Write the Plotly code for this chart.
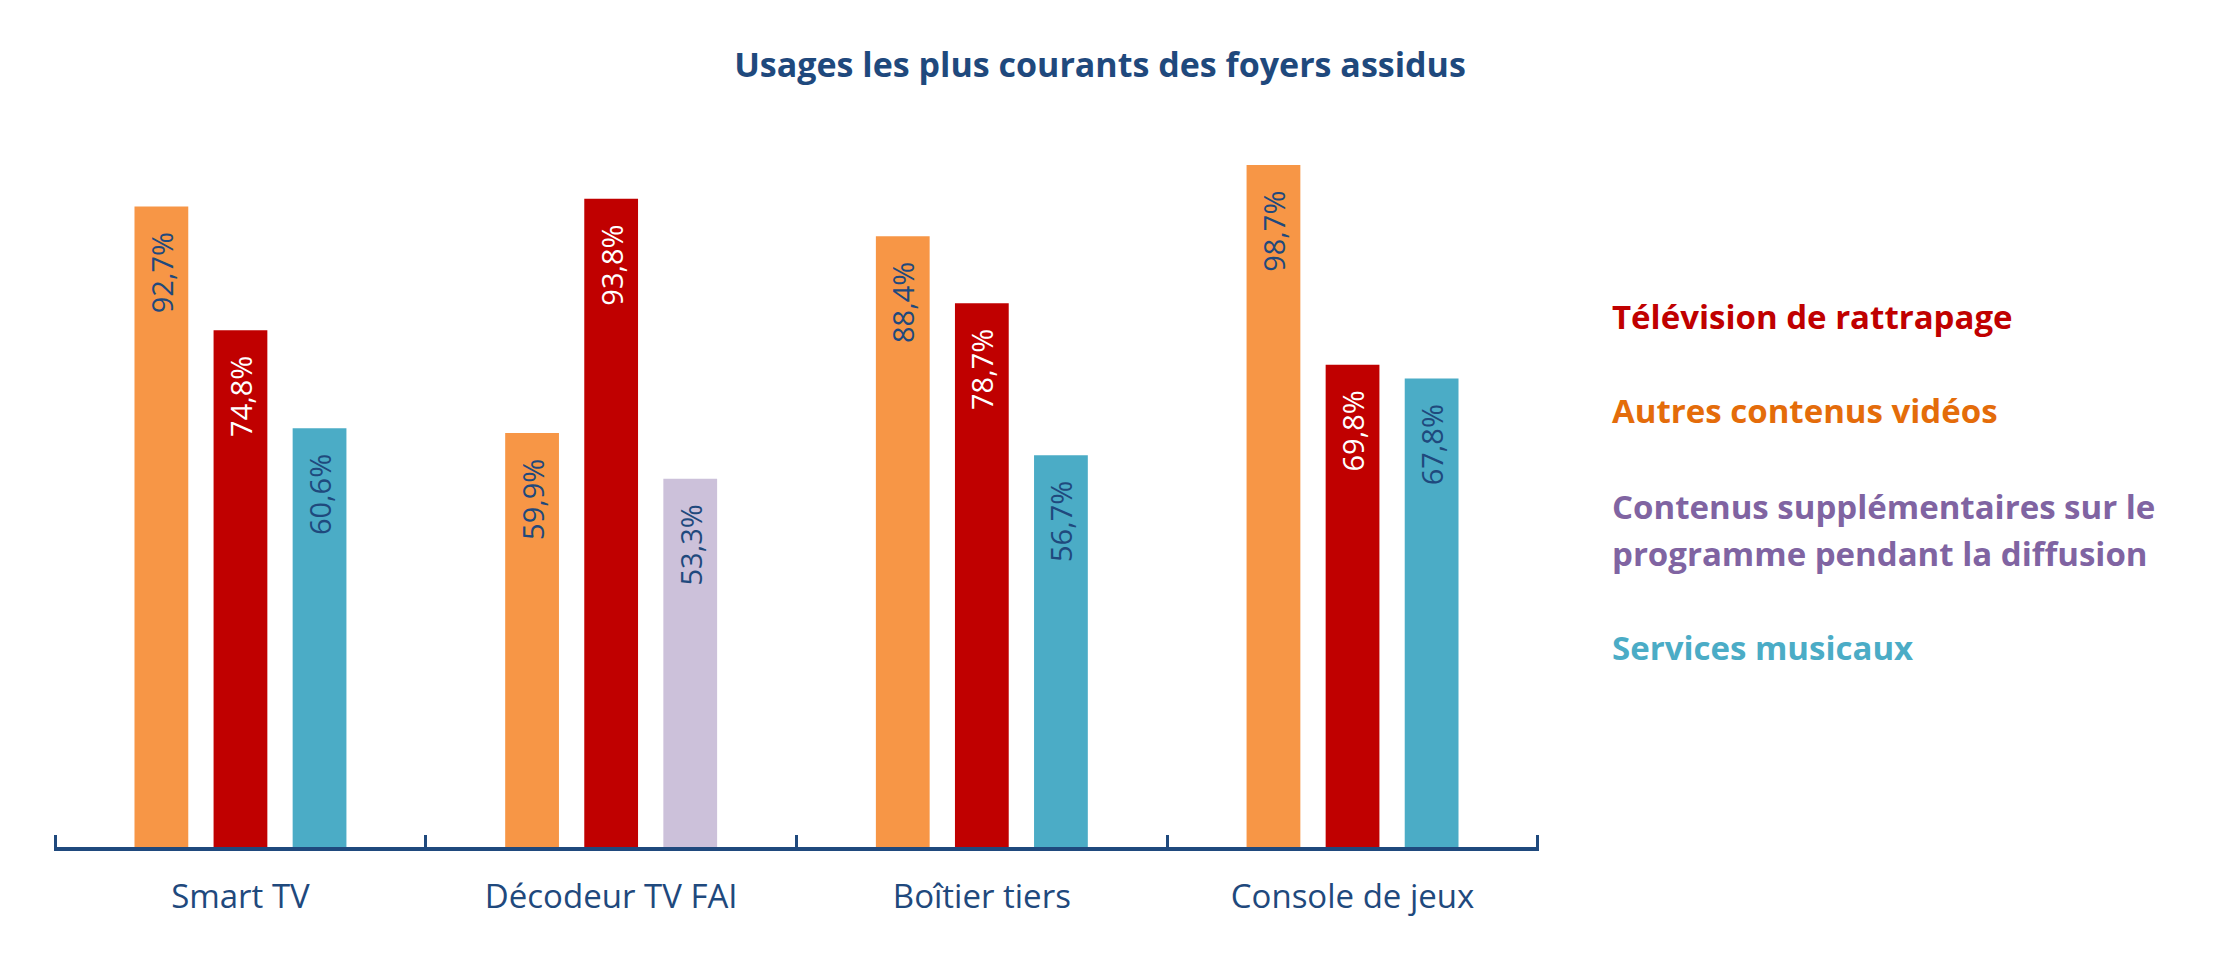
import plotly.graph_objects as go

categories = ["Smart TV", "Décodeur TV FAI", "Boîtier tiers", "Console de jeux"]
rattrapage = [74.8, 93.8, 78.7, 69.8]
autres_videos = [92.7, 59.9, 88.4, 98.7]
contenus_supp = [None, 53.3, None, None]
musicaux = [60.6, None, 56.7, 67.8]

series = [
    ("Autres contenus vidéos", autres_videos, "#F79646", "#1F497D", "a"),
    ("Télévision de rattrapage", rattrapage, "#C00000", "#FFFFFF", "b"),
    ("Contenus supplémentaires sur le programme pendant la diffusion", contenus_supp, "#CCC1DA", "#1F497D", "c"),
    ("Services musicaux", musicaux, "#4BACC6", "#1F497D", "c"),
]

FONT = "Open Sans"
OFF = 8  # page body margin
W, H = 2240 - 2 * OFF, 958 - 2 * OFF
PL, PR, PT, PB = 54, 1539, 156, 847  # plot area in page pixels

fig = go.Figure()
for name, vals, color, tcolor, grp in series:
    fig.add_trace(go.Bar(
        x=categories, y=vals, name=name, offsetgroup=grp,
        marker=dict(color=color, line=dict(width=0)),
        texttemplate="%{y:.1f}%\u00a0\u00a0\u00a0", textposition="inside",
        insidetextanchor="end", textangle=-90,
        textfont=dict(family=FONT, size=29, color=tcolor),
        showlegend=False,
    ))

legend_items = [
    ("Télévision de rattrapage", "#C00000", 316),
    ("Autres contenus vidéos", "#E46C0A", 410),
    ("Contenus supplémentaires sur le", "#8064A2", 506),
    ("programme pendant la diffusion", "#8064A2", 553),
    ("Services musicaux", "#4BACC6", 647),
]
annotations = []
for txt, col, ypx in legend_items:
    annotations.append(dict(
        text="<b>" + txt + "</b>", xref="paper", yref="paper",
        x=(1610 - PL) / (PR - PL), y=(PB - ypx) / (PB - PT),
        xanchor="left", yanchor="middle", showarrow=False, align="left",
        font=dict(family=FONT, size=33, color=col),
    ))

fig.update_layout(
    width=W, height=H,
    margin=dict(l=PL - OFF, r=W - (PR - OFF), t=PT - OFF, b=H - (PB - OFF)),
    paper_bgcolor="white", plot_bgcolor="white",
    separators=", ",
    barmode="group", bargap=0.36, bargroupgap=0.32,
    title=dict(text="<b>Usages les plus courants des foyers assidus</b>",
               x=(1100 - OFF) / W, xanchor="center", y=1 - (65 - OFF) / H, yanchor="middle",
               font=dict(family=FONT, size=34, color="#1F497D")),
    annotations=annotations,
    xaxis=dict(showline=True, linecolor="#1F497D", linewidth=4,
               range=[-0.503, 3.503],
               ticks="inside", tickson="boundaries", ticklen=12, tickwidth=3,
               tickcolor="#1F497D", ticklabelstandoff=17,
               tickfont=dict(family=FONT, size=33, color="#1F497D"),
               showgrid=False, zeroline=False),
    yaxis=dict(range=[0, 100], visible=False, showgrid=False, zeroline=False),
)

fig.write_html("out.html")
